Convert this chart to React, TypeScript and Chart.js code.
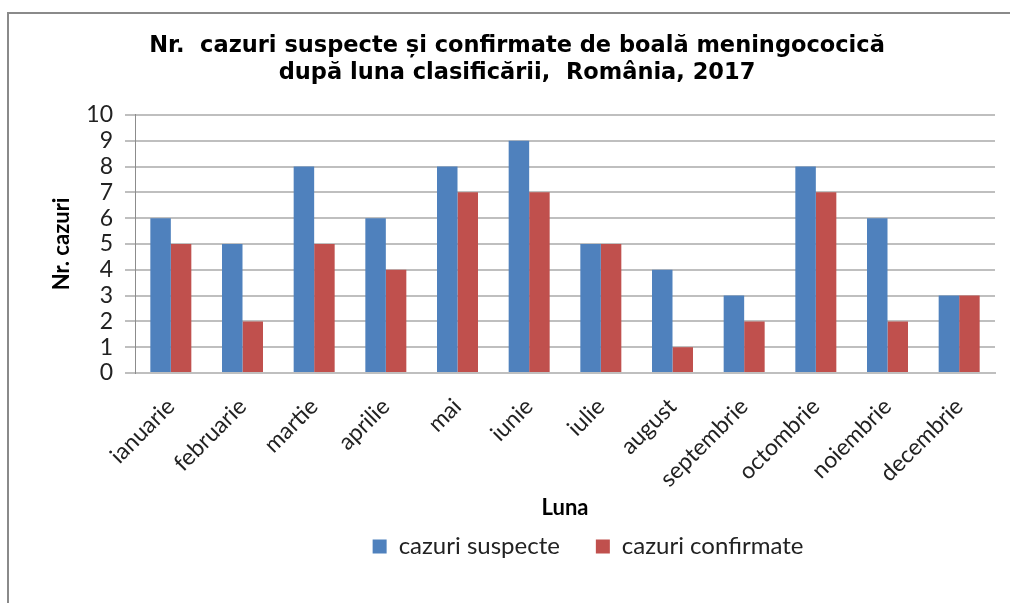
import React, { useEffect, useRef } from "react";
import { Chart, registerables } from "chart.js";

Chart.register(...registerables);

const months = [
  "ianuarie", "februarie", "martie", "aprilie", "mai", "iunie",
  "iulie", "august", "septembrie", "octombrie", "noiembrie", "decembrie",
];
const suspecte = [6, 5, 8, 6, 8, 9, 5, 4, 3, 8, 6, 3];
const confirmate = [5, 2, 5, 4, 7, 7, 5, 1, 2, 7, 2, 3];
const titleLines = [
  "Nr.  cazuri suspecte și confirmate de boală meningococică",
  "după luna clasificării,  România, 2017",
];
const seriesNames = ["cazuri suspecte", "cazuri confirmate"];
const yTitle = "Nr. cazuri";
const xTitle = "Luna";

const shiftPlugin = {
  id: "shiftBoxes",
  afterLayout(chart: any) {
    const t = chart.titleBlock;
    if (t) {
      const dx = 517 - (t.left + t.right) / 2;
      t.left += dx;
      t.right += dx;
    }
    const l = chart.legend;
    if (l) {
      const dx = 588 - (l.left + l.right) / 2;
      l.left += dx;
      l.right += dx;
    }
  },
};

export default function App() {
  const ref = useRef<HTMLCanvasElement>(null);
  useEffect(() => {
    if (!ref.current) return;
    const grid = "#bfbfbf";
    const chart = new Chart(ref.current, {
      type: "bar",
      data: {
        labels: months,
        datasets: [
          {
            label: seriesNames[0],
            data: suspecte,
            backgroundColor: "#4F81BD",
            categoryPercentage: 0.572,
            barPercentage: 1,
          },
          {
            label: seriesNames[1],
            data: confirmate,
            backgroundColor: "#C0504D",
            categoryPercentage: 0.572,
            barPercentage: 1,
          },
        ],
      },
      plugins: [shiftPlugin],
      options: {
        responsive: false,
        animation: false,
        devicePixelRatio: 1,
        layout: { padding: { left: 30, right: 15, top: 12, bottom: 34.5 } },
        plugins: {
          title: {
            display: true,
            text: titleLines,
            color: "#000",
            font: { family: "DejaVu Sans", weight: "bold", size: 22.5, lineHeight: 1.22 },
            padding: { top: 20, bottom: 28 },
          },
          legend: {
            display: true,
            position: "bottom",
            fullSize: false,
            labels: {
              boxWidth: 14,
              boxHeight: 14,
              padding: 36,
              color: "#222",
              font: { family: "Lato", size: 24 },
            },
          },
          tooltip: { enabled: false },
        },
        scales: {
          x: {
            grid: { display: false },
            border: { display: true, color: grid, width: 2 },
            ticks: {
              autoSkip: false,
              minRotation: 45,
              maxRotation: 45,
              padding: 12,
              color: "#222",
              font: { family: "Lato", size: 23 },
            },
            title: {
              display: true,
              text: xTitle,
              color: "#000",
              font: { family: "Lato", weight: "bold", size: 22 },
              padding: { top: 0, bottom: -23 },
            },
            afterFit(scale: any) {
              scale.height = 125.5;
            },
          },
          y: {
            min: 0,
            max: 10,
            ticks: {
              stepSize: 1,
              autoSkip: false,
              padding: 12,
              color: "#222",
              font: { family: "Lato", size: 23 },
            },
            grid: { color: grid, lineWidth: 2, tickLength: 10, drawTicks: true },
            border: { display: true, color: "#8c8c8c", width: 1 },
            title: {
              display: true,
              text: yTitle,
              color: "#000",
              font: { family: "Lato", weight: "bold", size: 22 },
              padding: { top: 19, bottom: 0 },
            },
            afterFit(scale: any) {
              scale.width = 105;
            },
          },
        },
      },
    });
    return () => chart.destroy();
  }, []);

  return (
    <div style={{ position: "absolute", left: 0, top: 0, width: 1010, height: 603, background: "#fff", overflow: "hidden" }}>
      <canvas ref={ref} width={1010} height={603} style={{ position: "absolute", left: 0, top: 0 }} />
      <div
        style={{
          position: "absolute",
          left: 7,
          top: 12,
          width: 1010,
          height: 603,
          borderTop: "2px solid #8a8a8a",
          borderLeft: "2px solid #8a8a8a",
          pointerEvents: "none",
        }}
      />
    </div>
  );
}
